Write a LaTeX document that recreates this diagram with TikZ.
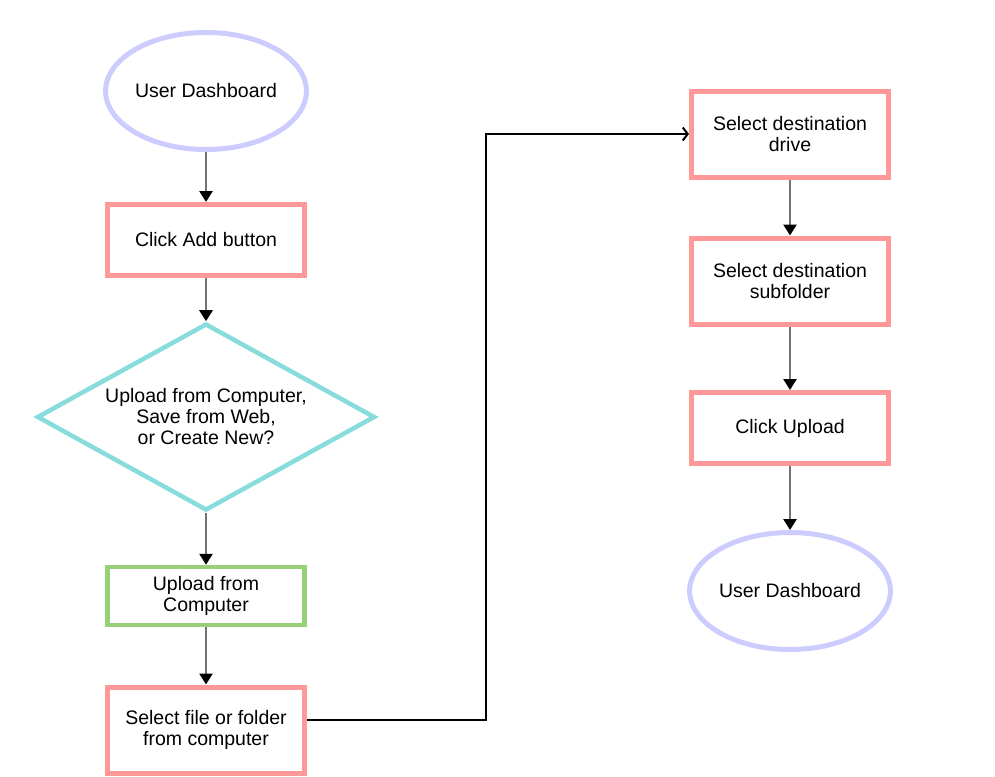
\documentclass[tikz,border=0pt]{standalone}
\usepackage{fontspec}
\setmainfont{Liberation Sans}
\usetikzlibrary{shapes.geometric,arrows.meta}
\definecolor{lavender}{HTML}{CCCCFF}
\definecolor{salmon}{HTML}{FF9999}
\definecolor{aqua}{HTML}{88DCDC}
\definecolor{leaf}{HTML}{97D077}

\begin{document}
\begin{tikzpicture}[x=1pt,y=-1pt,
  every node/.style={font=\fontsize{19.5}{21}\selectfont,align=center,inner sep=0pt},
  terminal/.style={ellipse,draw=lavender,line width=5pt,minimum width=197pt,minimum height=117pt},
  stepbox/.style={rectangle,draw=salmon,line width=5pt,minimum width=197pt},
  choice/.style={diamond,aspect=1.79,draw=aqua,line width=4.5pt,minimum width=338pt,minimum height=187pt},
  flow/.style={draw=black!55,line width=2.5pt,-{Triangle[color=black,length=11pt,width=13pt]}},
  link/.style={draw=black,line width=2pt,-{Straight Barb[length=5pt,width=13pt]}}]
  \useasboundingbox (0,0) rectangle (995,776);
%%
  % Node: Dash1
  \node[terminal] (dash1) at (206,91) {User Dashboard};
  % Node: Add
  \node[stepbox,minimum height=71pt] (add) at (206,240) {Click Add button};
  % Node: Ask
  \node[choice] (ask) at (206,417) {Upload from Computer,\\Save from Web,\\or Create New?};
  % Node: Comp
  \node[stepbox,draw=leaf,line width=4.5pt,minimum height=58pt] (comp) at (206,596) {Upload from\\Computer};
  % Node: Pick
  \node[stepbox,minimum height=86pt] (pick) at (206,730) {Select file or folder\\from computer};
  % Node: Drive
  \node[stepbox,minimum height=86pt] (drive) at (790,134) {Select destination\\drive};
  % Node: Sub
  \node[stepbox,minimum height=86pt] (sub) at (790,281) {Select destination\\subfolder};
  % Node: Upload
  \node[stepbox,minimum height=71pt] (upload) at (790,428) {Click Upload};
  % Node: Dash2
  \node[terminal] (dash2) at (790,591) {User Dashboard};
  \coordinate (bend) at (486,134);
%
  % Edge: Dash1 -> Add
  \draw[flow] (dash1) -- (add);
  % Edge: Add -> Ask
  \draw[flow] (add) -- (ask);
  % Edge: Ask -> Comp
  \draw[flow] (ask) -- (comp);
  % Edge: Comp -> Pick
  \draw[flow] (comp) -- (pick);
  % Edge: Pick -> Drive
  \draw[link] ([yshift=10pt]pick.east) -| (bend) -- (drive.west);
  % Edge: Drive -> Sub
  \draw[flow] (drive) -- (sub);
  % Edge: Sub -> Upload
  \draw[flow] (sub) -- (upload);
  % Edge: Upload -> Dash2
  \draw[flow] (upload) -- (dash2);
%
\end{tikzpicture}
\end{document}
